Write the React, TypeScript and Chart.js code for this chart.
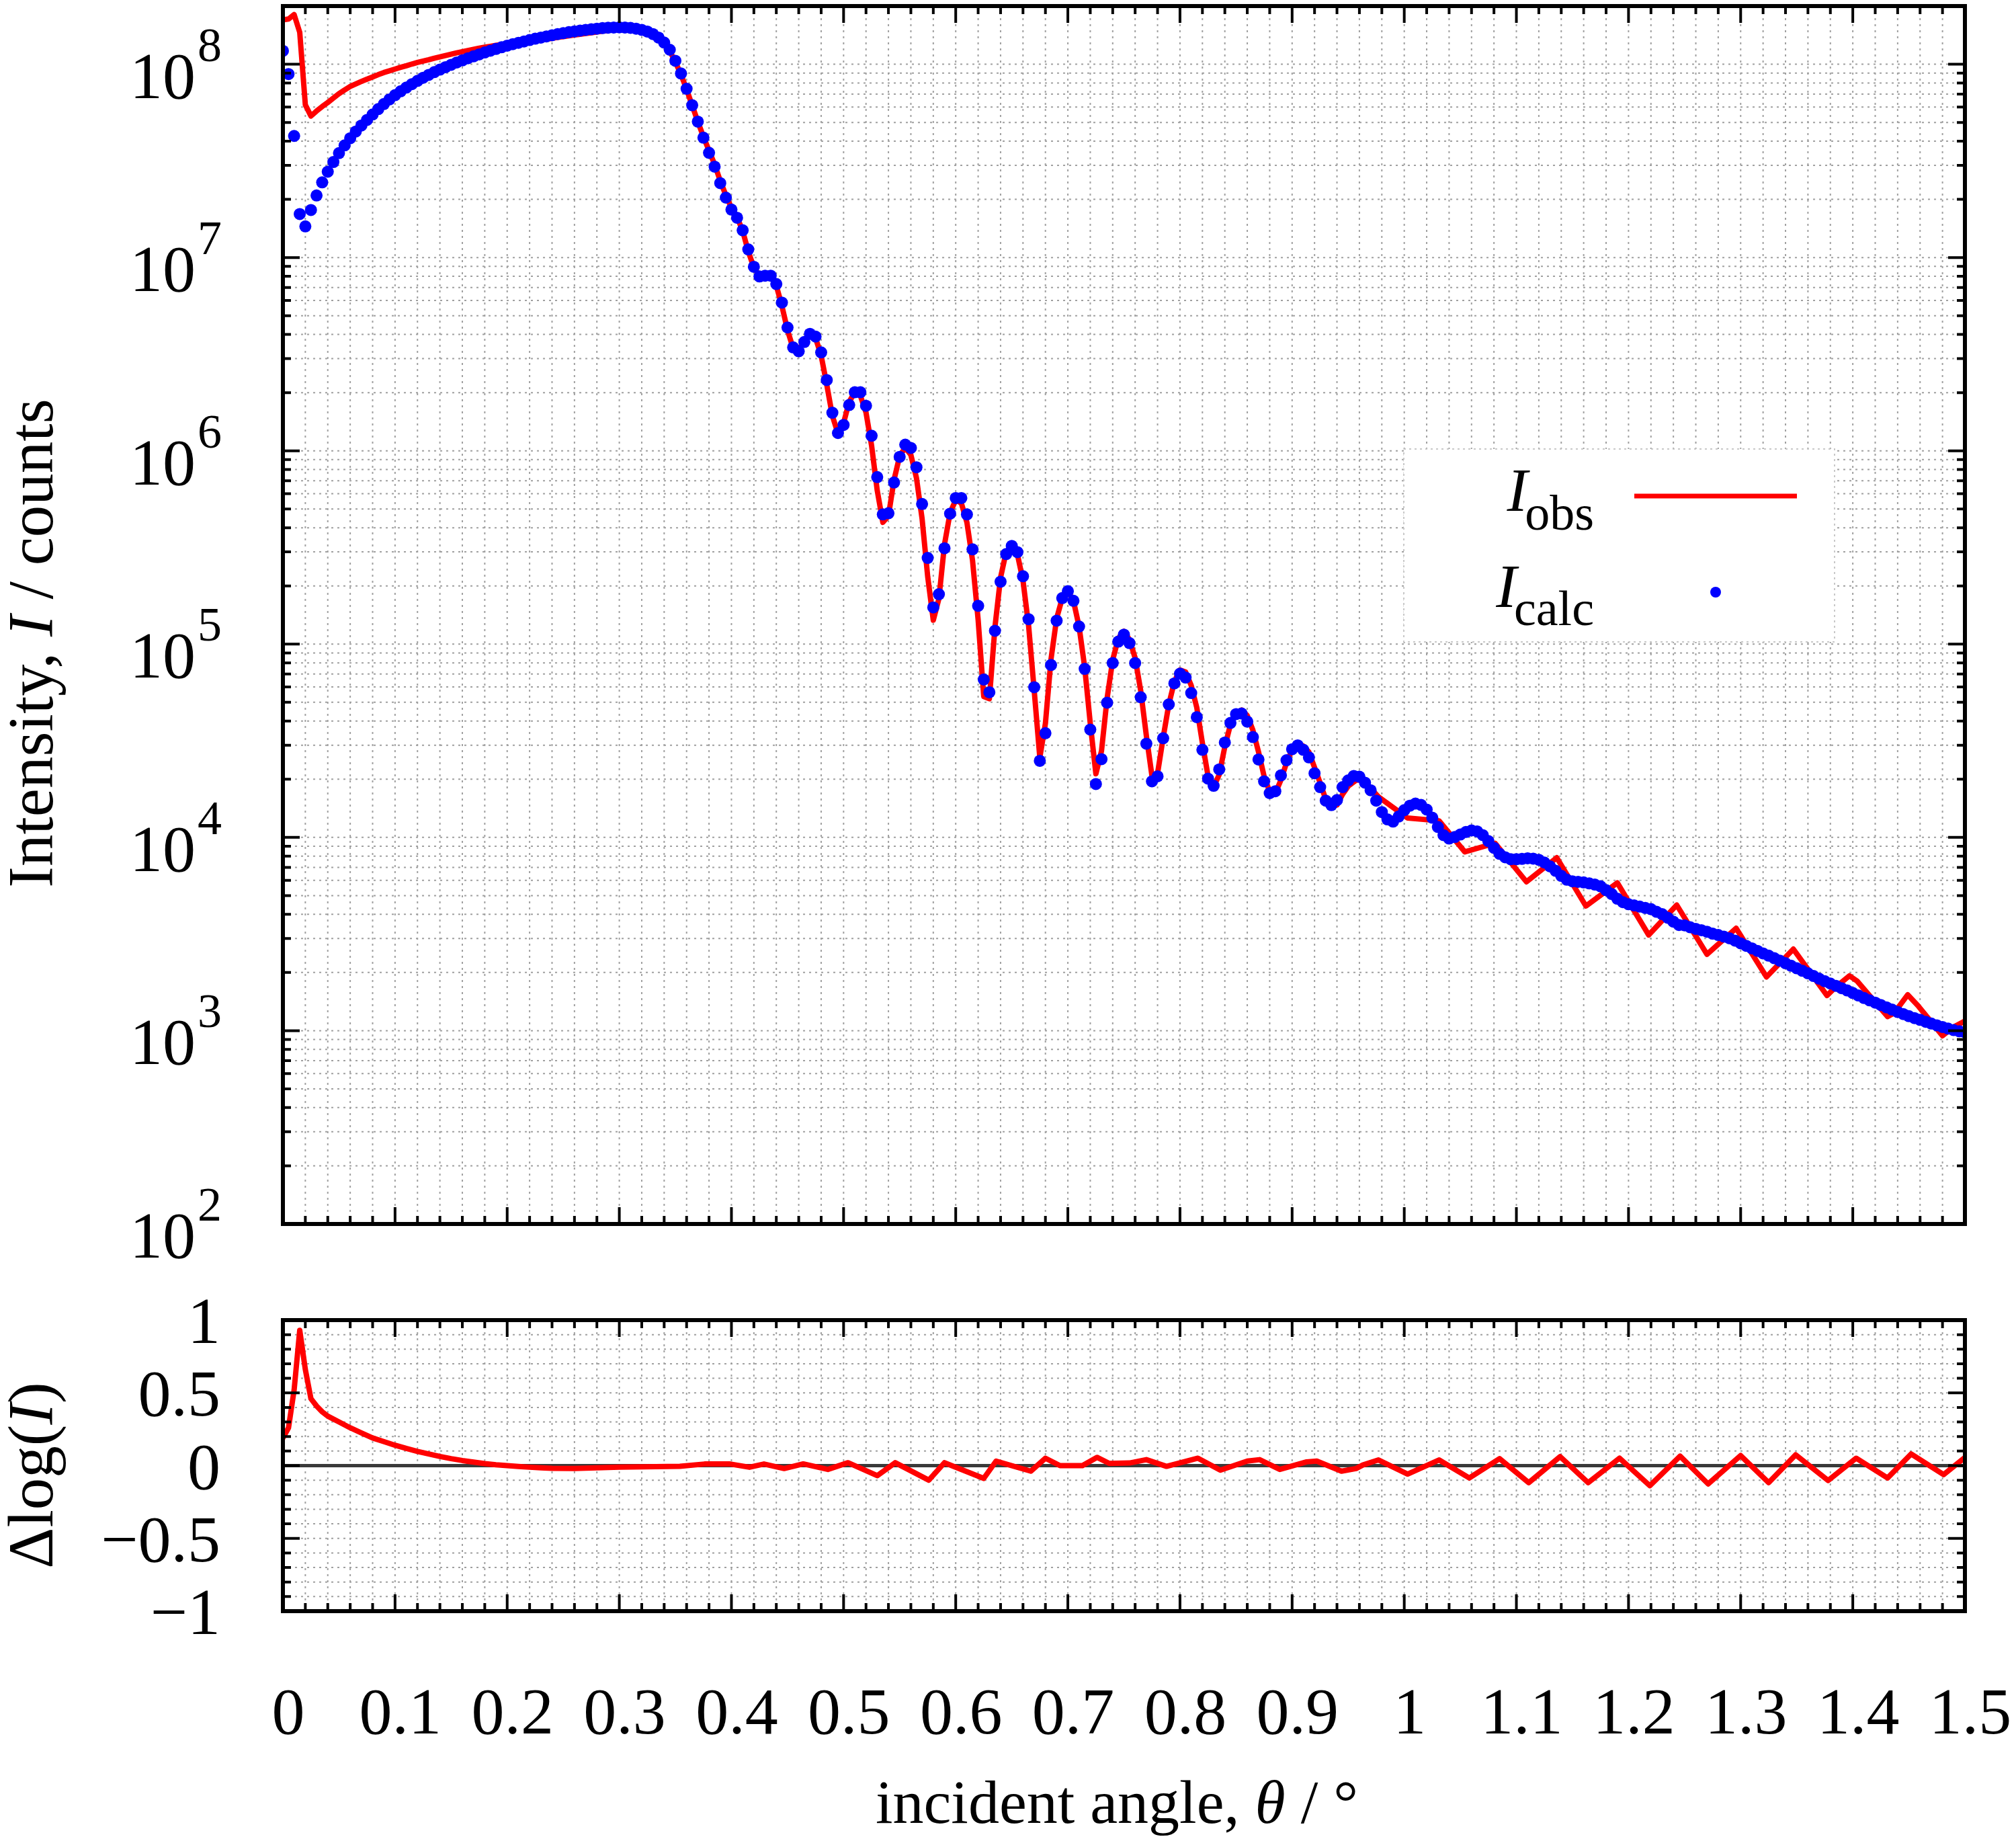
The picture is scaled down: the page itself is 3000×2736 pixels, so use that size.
import { useEffect, useRef } from 'react'
import { Chart, registerables } from 'chart.js'

Chart.register(...registerables)

// incident angle grid of the calculated curve (degrees)
const STEP = 0.005

// log10 of calculated intensity, theta = 0 ... 1.5 step 0.005
const calcLogI = [
  8.069, 7.949, 7.629, 7.225, 7.161, 7.246, 7.321, 7.389, 7.444, 7.494,
  7.540, 7.580, 7.617, 7.652, 7.683, 7.712, 7.740, 7.768, 7.794, 7.818,
  7.840, 7.860, 7.879, 7.897, 7.914, 7.930, 7.945, 7.959, 7.972, 7.985,
  7.997, 8.009, 8.020, 8.031, 8.041, 8.051, 8.061, 8.070, 8.079, 8.088,
  8.096, 8.104, 8.111, 8.118, 8.125, 8.132, 8.138, 8.144, 8.150, 8.156,
  8.161, 8.166, 8.170, 8.174, 8.178, 8.181, 8.184, 8.187, 8.189, 8.190,
  8.191, 8.190, 8.188, 8.184, 8.178, 8.169, 8.156, 8.138, 8.112, 8.075,
  8.018, 7.952, 7.873, 7.788, 7.703, 7.620, 7.542, 7.470, 7.385, 7.310,
  7.248, 7.206, 7.141, 7.042, 6.952, 6.902, 6.906, 6.906, 6.863, 6.767,
  6.638, 6.535, 6.515, 6.563, 6.605, 6.591, 6.509, 6.366, 6.197, 6.092,
  6.134, 6.237, 6.303, 6.303, 6.233, 6.078, 5.864, 5.671, 5.677, 5.836,
  5.969, 6.032, 6.015, 5.915, 5.725, 5.446, 5.190, 5.258, 5.496, 5.675,
  5.756, 5.756, 5.671, 5.490, 5.198, 4.817, 4.751, 5.069, 5.323, 5.466,
  5.508, 5.476, 5.351, 5.129, 4.777, 4.396, 4.539, 4.892, 5.121, 5.238,
  5.274, 5.224, 5.091, 4.872, 4.558, 4.276, 4.405, 4.697, 4.902, 5.013,
  5.049, 5.005, 4.902, 4.725, 4.485, 4.290, 4.316, 4.513, 4.688, 4.797,
  4.847, 4.827, 4.747, 4.622, 4.453, 4.304, 4.267, 4.352, 4.491, 4.592,
  4.638, 4.641, 4.599, 4.519, 4.403, 4.290, 4.229, 4.239, 4.321, 4.399,
  4.456, 4.476, 4.453, 4.414, 4.332, 4.260, 4.190, 4.167, 4.193, 4.260,
  4.295, 4.318, 4.314, 4.283, 4.244, 4.190, 4.131, 4.093, 4.082, 4.108,
  4.141, 4.164, 4.175, 4.168, 4.144, 4.102, 4.054, 4.012, 3.994, 4.002,
  4.015, 4.028, 4.036, 4.031, 4.012, 3.981, 3.946, 3.915, 3.897, 3.887,
  3.887, 3.889, 3.892, 3.890, 3.884, 3.870, 3.850, 3.827, 3.801, 3.781,
  3.773, 3.770, 3.767, 3.762, 3.756, 3.747, 3.727, 3.707, 3.683, 3.665,
  3.654, 3.648, 3.642, 3.635, 3.629, 3.615, 3.603, 3.584, 3.564, 3.547,
  3.545, 3.535, 3.527, 3.520, 3.512, 3.502, 3.495, 3.487, 3.478, 3.466,
  3.452, 3.439, 3.426, 3.413, 3.400, 3.388, 3.375, 3.362, 3.349, 3.336,
  3.323, 3.310, 3.297, 3.283, 3.269, 3.256, 3.244, 3.232, 3.220, 3.208,
  3.195, 3.182, 3.169, 3.157, 3.145, 3.133, 3.121, 3.109, 3.097, 3.086,
  3.075, 3.065, 3.056, 3.046, 3.037, 3.028, 3.019, 3.011, 3.003, 2.997,
  2.992,
]

// log10 of observed intensity, theta = 0 ... 0.95 step 0.005
const obsLogI = [
  8.230, 8.234, 8.257, 8.165, 7.790, 7.732, 7.758, 7.781, 7.802, 7.825,
  7.848, 7.867, 7.885, 7.898, 7.911, 7.923, 7.934, 7.946, 7.957, 7.966,
  7.975, 7.984, 7.992, 8.001, 8.009, 8.016, 8.023, 8.031, 8.038, 8.045,
  8.052, 8.059, 8.065, 8.071, 8.077, 8.083, 8.088, 8.093, 8.098, 8.102,
  8.104, 8.106, 8.108, 8.112, 8.115, 8.121, 8.125, 8.130, 8.134, 8.139,
  8.143, 8.147, 8.151, 8.155, 8.159, 8.163, 8.167, 8.171, 8.175, 8.178,
  8.181, 8.181, 8.179, 8.176, 8.170, 8.161, 8.148, 8.130, 8.105, 8.068,
  8.012, 7.947, 7.870, 7.787, 7.703, 7.625, 7.553, 7.481, 7.397, 7.322,
  7.257, 7.209, 7.138, 7.032, 6.948, 6.906, 6.915, 6.907, 6.855, 6.750,
  6.624, 6.530, 6.520, 6.573, 6.607, 6.584, 6.493, 6.342, 6.181, 6.089,
  6.144, 6.254, 6.302, 6.285, 6.198, 6.026, 5.795, 5.630, 5.663, 5.850,
  5.973, 6.016, 5.979, 5.859, 5.649, 5.350, 5.124, 5.235, 5.516, 5.680,
  5.745, 5.730, 5.629, 5.433, 5.125, 4.729, 4.717, 5.089, 5.345, 5.477,
  5.508, 5.465, 5.329, 5.095, 4.760, 4.413, 4.590, 4.923, 5.133, 5.238,
  5.274, 5.224, 5.091, 4.881, 4.589, 4.329, 4.447, 4.720, 4.918, 5.030,
  5.066, 5.023, 4.928, 4.758, 4.526, 4.318, 4.331, 4.516, 4.687, 4.806,
  4.866, 4.856, 4.786, 4.671, 4.488, 4.318, 4.261, 4.325, 4.470, 4.584,
  4.643, 4.659, 4.630, 4.555, 4.443, 4.316, 4.236, 4.228, 4.297, 4.386,
  4.454, 4.485, 4.473, 4.441, 4.362, 4.282, 4.196, 4.157, 4.168, 4.223,
  4.265,
]

// observed intensity beyond 0.95 deg (turning points of the trace)
const obsTailTheta = [
  0.957, 0.963, 0.977, 1.003, 1.031, 1.054, 1.081, 1.109, 1.136, 1.162,
  1.190, 1.218, 1.243, 1.270, 1.296, 1.323, 1.347, 1.377, 1.384, 1.397,
  1.404, 1.431, 1.437, 1.449, 1.458, 1.480, 1.489, 1.500,
]
const obsTailLogI = [
  4.296, 4.298, 4.210, 4.100, 4.086, 3.925, 3.970, 3.770, 3.895, 3.645,
  3.765, 3.495, 3.650, 3.395, 3.530, 3.278, 3.422, 3.182, 3.222, 3.284,
  3.256, 3.073, 3.092, 3.186, 3.130, 2.974, 3.016, 3.050,
]

// residual Δlog(I)
const residTheta = [
  0, 0.005, 0.01, 0.015, 0.02, 0.025, 0.03, 0.035, 0.04, 0.05,
  0.06, 0.07, 0.08, 0.09, 0.10, 0.11, 0.12, 0.13, 0.14, 0.15,
  0.16, 0.17, 0.18, 0.19, 0.20, 0.21, 0.22, 0.23, 0.24, 0.26,
  0.28, 0.30, 0.354, 0.376, 0.398, 0.416, 0.429, 0.447, 0.464, 0.486,
  0.504, 0.530, 0.546, 0.576, 0.590, 0.625, 0.636, 0.667, 0.680, 0.693,
  0.713, 0.726, 0.737, 0.755, 0.770, 0.788, 0.816, 0.836, 0.860, 0.871,
  0.889, 0.913, 0.922, 0.944, 0.957, 0.963, 0.977, 1.003, 1.031, 1.058,
  1.085, 1.111, 1.139, 1.164, 1.192, 1.219, 1.246, 1.271, 1.300, 1.325,
  1.349, 1.378, 1.403, 1.431, 1.452, 1.481, 1.500,
]
const residValue = [
  0.19, 0.26, 0.52, 0.93, 0.66, 0.46, 0.41, 0.37, 0.34, 0.30,
  0.26, 0.225, 0.19, 0.165, 0.14, 0.118, 0.098, 0.08, 0.063, 0.048,
  0.035, 0.024, 0.014, 0.006, 0.0, -0.006, -0.011, -0.015, -0.018, -0.02,
  -0.015, -0.01, -0.005, 0.011, 0.012, -0.011, 0.011, -0.02, 0.012, -0.026,
  0.02, -0.069, 0.02, -0.10, 0.02, -0.088, 0.031, -0.038, 0.051, 0.0,
  0.0, 0.057, 0.015, 0.018, 0.041, -0.005, 0.051, -0.031, 0.031, 0.041,
  -0.026, 0.026, 0.031, -0.038, -0.02, 0.004, 0.039, -0.058, 0.039, -0.085,
  0.048, -0.117, 0.062, -0.117, 0.051, -0.138, 0.065, -0.126, 0.069, -0.117,
  0.074, -0.102, 0.051, -0.085, 0.080, -0.062, 0.056,
]

const xTickLabels = [
  '0', '0.1', '0.2', '0.3', '0.4', '0.5', '0.6', '0.7',
  '0.8', '0.9', '1', '1.1', '1.2', '1.3', '1.4', '1.5',
]
const yDecades = [2, 3, 4, 5, 6, 7, 8]
const residTickValues = [-1, -0.5, 0, 0.5, 1]
const residTickLabels = ['−1', '−0.5', '0', '0.5', '1']

const SERIF = '"Liberation Serif", "Times New Roman", serif'
const RED = '#ff0000'
const BLUE = '#0000ff'
const GRID = '#a0a0a0'

const W = 3000
const AREA_LEFT = 421
const AREA_RIGHT = 2924
const MAIN_H = 1900
const MAIN_TOP = 3
const MAIN_BOTTOM = 1821
const RES_OFFSET = 1900
const RES_H = 836
const RES_TOP = 1964
const RES_BOTTOM = 2397
const MAJOR_LEN = 25
const MINOR_LEN = 12

// minor x ticks every 0.02 deg, major every 0.1
const xTicks = Array.from({ length: 76 }, (_, k) => ({ v: k * 0.02, major: k % 5 === 0 }))

const logTicks: { v: number; major: boolean }[] = []
for (const d of yDecades) {
  for (let m = 1; m <= 9; m++) {
    const v = m * Math.pow(10, d)
    if (v < 2e8) logTicks.push({ v, major: m === 1 })
  }
}
const residTicks = Array.from({ length: 21 }, (_, k) => ({ v: -1 + k * 0.1, major: k % 5 === 0 }))

type Run = { text: string; font: string }

function runsWidth(ctx: CanvasRenderingContext2D, runs: Run[]) {
  let w = 0
  for (const r of runs) {
    ctx.font = r.font
    w += ctx.measureText(r.text).width
  }
  return w
}

function drawRuns(ctx: CanvasRenderingContext2D, runs: Run[], x: number, y: number) {
  let cx = x
  ctx.textAlign = 'left'
  for (const r of runs) {
    ctx.font = r.font
    ctx.fillText(r.text, cx, y)
    cx += ctx.measureText(r.text).width
  }
}

function drawVerticalTitle(ctx: CanvasRenderingContext2D, runs: Run[], baseX: number, centerY: number) {
  ctx.save()
  ctx.translate(baseX, centerY)
  ctx.rotate(-Math.PI / 2)
  ctx.fillStyle = '#000'
  ctx.textBaseline = 'alphabetic'
  const w = runsWidth(ctx, runs)
  drawRuns(ctx, runs, -w / 2, 0)
  ctx.restore()
}

function drawGrid(chart: any, yVals: { v: number }[]) {
  const { ctx, chartArea: a, scales } = chart
  ctx.save()
  ctx.strokeStyle = GRID
  ctx.lineWidth = 2
  ctx.setLineDash([3, 6])
  ctx.beginPath()
  for (const t of xTicks) {
    const px = scales.x.getPixelForValue(t.v)
    ctx.moveTo(px, a.top)
    ctx.lineTo(px, a.bottom)
  }
  for (const t of yVals) {
    const py = scales.y.getPixelForValue(t.v)
    ctx.moveTo(a.left, py)
    ctx.lineTo(a.right, py)
  }
  ctx.stroke()
  ctx.restore()
}

function drawFrame(chart: any, yVals: { v: number; major: boolean }[]) {
  const { ctx, chartArea: a, scales } = chart
  ctx.save()
  ctx.strokeStyle = '#000'
  ctx.setLineDash([])
  ctx.lineWidth = 4
  ctx.beginPath()
  for (const t of xTicks) {
    const px = scales.x.getPixelForValue(t.v)
    const len = t.major ? MAJOR_LEN : MINOR_LEN
    ctx.moveTo(px, a.bottom)
    ctx.lineTo(px, a.bottom - len)
    ctx.moveTo(px, a.top)
    ctx.lineTo(px, a.top + len)
  }
  for (const t of yVals) {
    const py = scales.y.getPixelForValue(t.v)
    const len = t.major ? MAJOR_LEN : MINOR_LEN
    ctx.moveTo(a.left, py)
    ctx.lineTo(a.left + len, py)
    ctx.moveTo(a.right, py)
    ctx.lineTo(a.right - len, py)
  }
  ctx.stroke()
  ctx.lineWidth = 6
  ctx.strokeRect(a.left, a.top, a.right - a.left, a.bottom - a.top)
  ctx.restore()
}

const mainDecor = {
  id: 'mainDecor',
  beforeDatasetsDraw(chart: any) {
    drawGrid(chart, logTicks)
  },
  afterDatasetsDraw(chart: any) {
    const { ctx, scales } = chart
    drawFrame(chart, logTicks)

    // y tick labels 10^n
    ctx.save()
    ctx.fillStyle = '#000'
    ctx.textBaseline = 'alphabetic'
    for (const d of yDecades) {
      const py = scales.y.getPixelForValue(Math.pow(10, d))
      ctx.font = `72px ${SERIF}`
      ctx.textAlign = 'right'
      const expW = ctx.measureText(String(d)).width
      ctx.fillText(String(d), 330, py - 5)
      ctx.font = `98px ${SERIF}`
      ctx.fillText('10', 330 - expW - 3, py + 50)
    }
    ctx.restore()

    drawVerticalTitle(ctx, [
      { text: 'Intensity, ', font: `95px ${SERIF}` },
      { text: 'I', font: `italic 95px ${SERIF}` },
      { text: ' / counts', font: `95px ${SERIF}` },
    ], 78, 957)

    // legend
    ctx.save()
    ctx.fillStyle = '#fff'
    ctx.fillRect(2089, 668, 641, 287)
    ctx.strokeStyle = '#c8c8c8'
    ctx.lineWidth = 2
    ctx.setLineDash([3, 5])
    ctx.strokeRect(2089, 668, 641, 287)
    ctx.setLineDash([])
    ctx.fillStyle = '#000'
    ctx.textBaseline = 'alphabetic'
    const rows = [
      { sub: 'obs', iBase: 760, subBase: 788 },
      { sub: 'calc', iBase: 903, subBase: 930 },
    ]
    for (const r of rows) {
      ctx.font = `74px ${SERIF}`
      ctx.textAlign = 'right'
      const sw = ctx.measureText(r.sub).width
      ctx.fillText(r.sub, 2372, r.subBase)
      ctx.font = `italic 92px ${SERIF}`
      ctx.fillText('I', 2372 - sw + 4, r.iBase)
    }
    ctx.strokeStyle = RED
    ctx.lineWidth = 7
    ctx.beginPath()
    ctx.moveTo(2432, 738)
    ctx.lineTo(2674, 738)
    ctx.stroke()
    ctx.fillStyle = BLUE
    ctx.beginPath()
    ctx.arc(2553, 881, 8, 0, Math.PI * 2)
    ctx.fill()
    ctx.restore()
  },
}

const residDecor = {
  id: 'residDecor',
  beforeDatasetsDraw(chart: any) {
    const { ctx, chartArea: a, scales } = chart
    drawGrid(chart, residTicks)
    const py = scales.y.getPixelForValue(0)
    ctx.save()
    ctx.strokeStyle = '#3a3a3a'
    ctx.lineWidth = 5
    ctx.beginPath()
    ctx.moveTo(a.left, py)
    ctx.lineTo(a.right, py)
    ctx.stroke()
    ctx.restore()
  },
  afterDatasetsDraw(chart: any) {
    const { ctx, scales } = chart
    drawFrame(chart, residTicks)
    ctx.save()
    ctx.fillStyle = '#000'
    ctx.textBaseline = 'alphabetic'
    ctx.font = `98px ${SERIF}`
    ctx.textAlign = 'right'
    residTickValues.forEach((v, i) => {
      const py = scales.y.getPixelForValue(v)
      ctx.fillText(residTickLabels[i], 328, py + 34)
    })
    ctx.textAlign = 'center'
    xTickLabels.forEach((lab, i) => {
      const px = scales.x.getPixelForValue(i * 0.1)
      ctx.fillText(lab, px + 8, 2579 - RES_OFFSET)
    })
    ctx.restore()

    drawVerticalTitle(ctx, [
      { text: 'Δlog(', font: `95px ${SERIF}` },
      { text: 'I', font: `italic 95px ${SERIF}` },
      { text: ')', font: `95px ${SERIF}` },
    ], 78, 2195 - RES_OFFSET)

    const titleRuns: Run[] = [
      { text: 'incident angle, ', font: `92px ${SERIF}` },
      { text: 'θ', font: `italic 92px ${SERIF}` },
      { text: ' / °', font: `92px ${SERIF}` },
    ]
    ctx.save()
    ctx.fillStyle = '#000'
    ctx.textBaseline = 'alphabetic'
    const tw = runsWidth(ctx, titleRuns)
    drawRuns(ctx, titleRuns, 1662 - tw / 2, 2712 - RES_OFFSET)
    ctx.restore()
  },
}

export default function App() {
  const mainRef = useRef<HTMLCanvasElement | null>(null)
  const residRef = useRef<HTMLCanvasElement | null>(null)

  useEffect(() => {
    let mainChart: Chart | null = null
    let residChart: Chart | null = null

    const calcPoints = calcLogI.map((l, i) => ({ x: i * STEP, y: Math.pow(10, l) }))
    const obsPoints = obsLogI
      .map((l, i) => ({ x: i * STEP, y: Math.pow(10, l) }))
      .concat(obsTailTheta.map((t, i) => ({ x: t, y: Math.pow(10, obsTailLogI[i]) })))
    const residPoints = residTheta.map((t, i) => ({ x: t, y: residValue[i] }))

    if (mainRef.current) {
      mainChart = new Chart(mainRef.current, {
        type: 'scatter',
        data: {
          datasets: [
            {
              label: 'I_calc',
              data: calcPoints,
              pointRadius: 9,
              pointBackgroundColor: BLUE,
              pointBorderColor: BLUE,
              pointBorderWidth: 0,
              showLine: false,
            },
            {
              label: 'I_obs',
              data: obsPoints,
              showLine: true,
              borderColor: RED,
              borderWidth: 8,
              borderJoinStyle: 'round',
              borderCapStyle: 'round',
              pointRadius: 0,
              tension: 0,
            },
          ],
        },
        options: {
          animation: false,
          responsive: false,
          devicePixelRatio: 1,
          events: [],
          layout: {
            padding: { left: AREA_LEFT, right: W - AREA_RIGHT, top: MAIN_TOP, bottom: MAIN_H - MAIN_BOTTOM },
          },
          scales: {
            x: { type: 'linear', min: 0, max: 1.5, display: false },
            y: { type: 'logarithmic', min: 100, max: 2e8, display: false },
          },
          plugins: { legend: { display: false }, tooltip: { enabled: false } },
        },
        plugins: [mainDecor],
      } as any)
    }

    if (residRef.current) {
      residChart = new Chart(residRef.current, {
        type: 'scatter',
        data: {
          datasets: [
            {
              label: 'residual',
              data: residPoints,
              showLine: true,
              borderColor: RED,
              borderWidth: 8,
              borderJoinStyle: 'round',
              borderCapStyle: 'round',
              pointRadius: 0,
              tension: 0,
            },
          ],
        },
        options: {
          animation: false,
          responsive: false,
          devicePixelRatio: 1,
          events: [],
          layout: {
            padding: {
              left: AREA_LEFT,
              right: W - AREA_RIGHT,
              top: RES_TOP - RES_OFFSET,
              bottom: RES_OFFSET + RES_H - RES_BOTTOM,
            },
          },
          scales: {
            x: { type: 'linear', min: 0, max: 1.5, display: false },
            y: { type: 'linear', min: -1, max: 1, display: false },
          },
          plugins: { legend: { display: false }, tooltip: { enabled: false } },
        },
        plugins: [residDecor],
      } as any)
    }

    return () => {
      if (mainChart) mainChart.destroy()
      if (residChart) residChart.destroy()
    }
  }, [])

  return (
    <div style={{ position: 'fixed', left: 0, top: 0, width: W, height: MAIN_H + RES_H, background: '#fff' }}>
      <canvas
        ref={mainRef}
        width={W}
        height={MAIN_H}
        style={{ position: 'absolute', left: 0, top: 0, width: W, height: MAIN_H }}
      />
      <canvas
        ref={residRef}
        width={W}
        height={RES_H}
        style={{ position: 'absolute', left: 0, top: RES_OFFSET, width: W, height: RES_H }}
      />
    </div>
  )
}
